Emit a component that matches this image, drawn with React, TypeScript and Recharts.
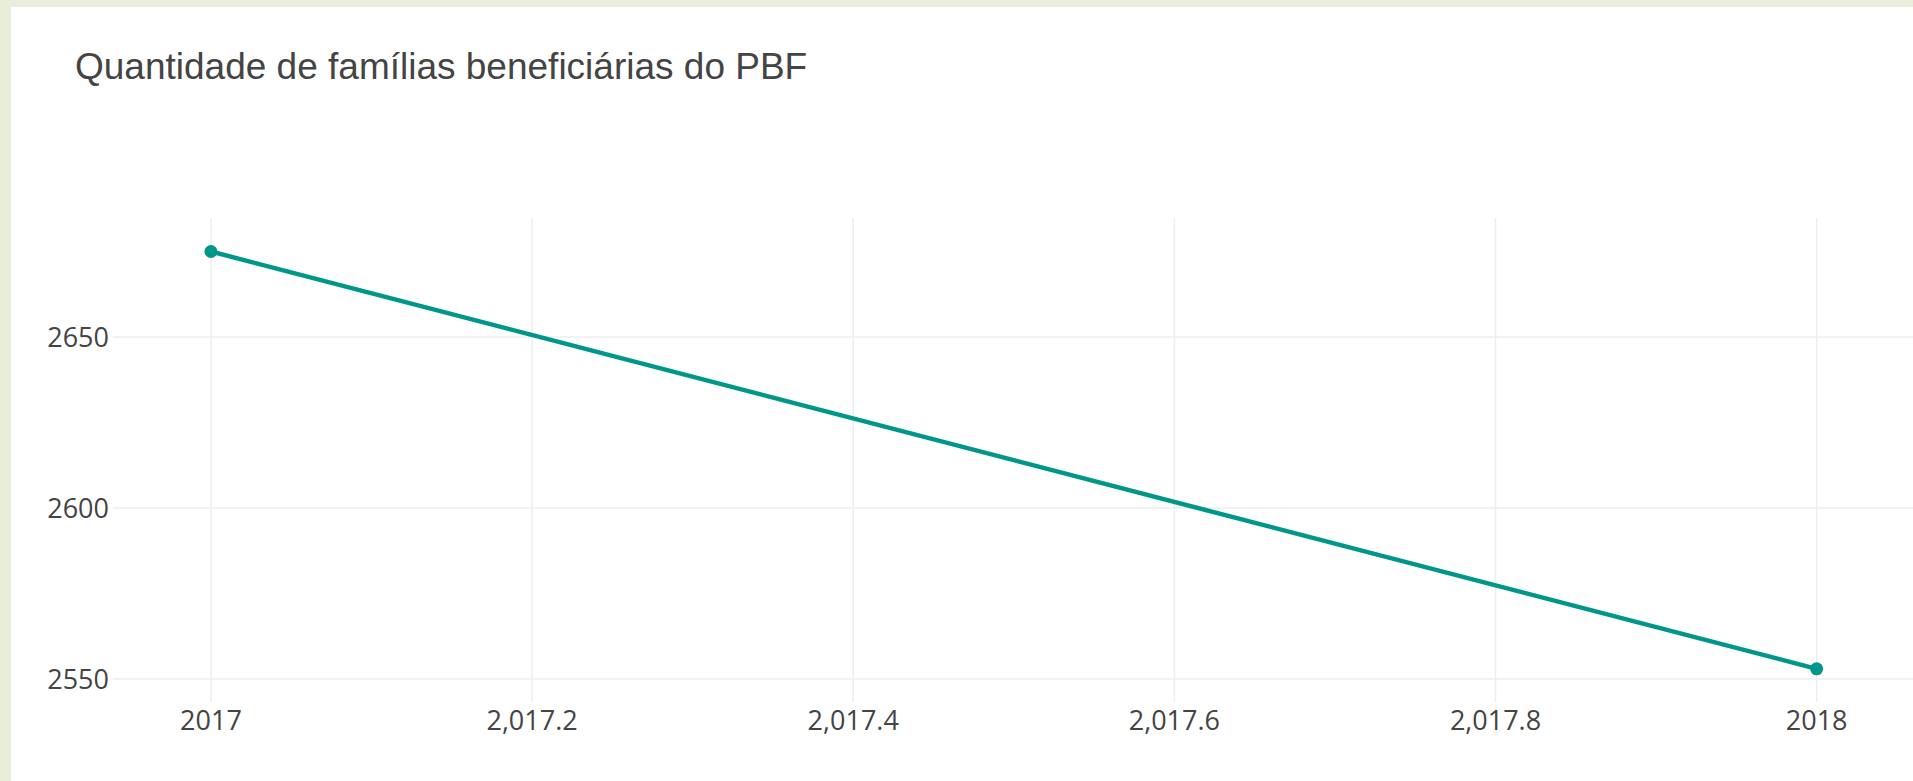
import { LineChart, Line, XAxis, YAxis, CartesianGrid } from 'recharts'

const years = [2017, 2018]
const familias = [2675, 2553]
const xTicks = [2017, 2017.2, 2017.4, 2017.6, 2017.8, 2018]
const xTickLabels = ['2017', '2,017.2', '2,017.4', '2,017.6', '2,017.8', '2018']
const yTicks = [2550, 2600, 2650]

const data = years.map((ano, i) => ({ ano, valor: familias[i] }))

const tickStyle = { fill: '#444444', fontSize: 27, fontFamily: '"Open Sans", sans-serif' }

export default function App() {
  const labelFor = (v: number) => {
    const idx = xTicks.findIndex((t) => Math.abs(t - v) < 1e-6)
    return idx >= 0 ? xTickLabels[idx] : String(v)
  }

  return (
    <div
      style={{
        position: 'absolute',
        left: 0,
        top: 0,
        width: 1913,
        height: 781,
        background: '#e8eed9',
        overflow: 'hidden',
      }}
    >
      <div
        style={{
          position: 'absolute',
          left: 11,
          top: 7,
          width: 1902,
          height: 774,
          background: '#ffffff',
        }}
      />
      <div
        style={{
          position: 'absolute',
          left: 75,
          top: 48,
          fontFamily: '"Liberation Sans", Arial, sans-serif',
          fontSize: 37,
          lineHeight: '37px',
          color: '#444444',
          whiteSpace: 'nowrap',
        }}
      >
        Quantidade de famílias beneficiárias do PBF
      </div>
      <div style={{ position: 'absolute', left: 0, top: 0 }}>
        <LineChart
          width={1913}
          height={781}
          data={data}
          margin={{ top: 218, right: 0, bottom: 39, left: 0 }}
        >
          <CartesianGrid
            stroke="#eeeeee"
            strokeWidth={1.5}
            horizontalValues={yTicks}
            verticalValues={xTicks}
          />
          <XAxis
            dataKey="ano"
            type="number"
            domain={[2016.939, 2018.06]}
            ticks={xTicks}
            tickFormatter={labelFor}
            allowDataOverflow
            axisLine={false}
            tickLine={false}
            tickSize={0}
            tickMargin={9}
            height={40}
            interval={0}
            tick={tickStyle}
          />
          <YAxis
            type="number"
            domain={[2543.3, 2684.8]}
            ticks={yTicks}
            allowDataOverflow
            axisLine={false}
            tickLine={false}
            tickSize={0}
            tickMargin={4}
            width={113}
            interval={0}
            tick={tickStyle}
          />
          <Line
            type="linear"
            dataKey="valor"
            stroke="#00968a"
            strokeWidth={4.5}
            dot={{ r: 6.5, fill: '#00968a', stroke: '#00968a', strokeWidth: 0 }}
            activeDot={false}
            isAnimationActive={false}
          />
        </LineChart>
      </div>
    </div>
  )
}
